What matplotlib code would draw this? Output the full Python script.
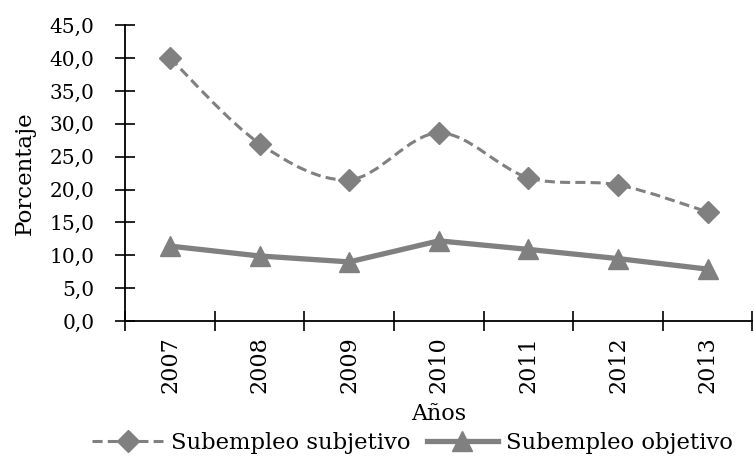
import matplotlib
matplotlib.use("Agg")
import matplotlib.pyplot as plt
from matplotlib.path import Path
from matplotlib.patches import PathPatch
from matplotlib.lines import Line2D
import numpy as np

# ─── Datos ────────────────────────────────────────────────────────────────────
years = ["2007", "2008", "2009", "2010", "2011", "2012", "2013"]
subjetivo = [40.0, 27.0, 21.5, 28.6, 21.8, 20.7, 16.6]
objetivo = [11.4, 9.9, 9.0, 12.2, 10.9, 9.5, 7.9]
yticks = [0, 5, 10, 15, 20, 25, 30, 35, 40, 45]

GREY = "#808080"
plt.rcParams["font.family"] = ["DejaVu Serif"]
DASH = (0, (3.3, 1.7))


def smooth_path(xs, ys):
    # curva tipo Catmull-Rom (como la línea suavizada de Excel)
    pts = np.column_stack([xs, ys]).astype(float)
    n = len(pts)
    verts = [pts[0]]
    codes = [Path.MOVETO]
    for i in range(n - 1):
        p0 = pts[i - 1] if i > 0 else pts[i]
        p1 = pts[i]
        p2 = pts[i + 1]
        p3 = pts[i + 2] if i + 2 < n else pts[i + 1]
        c1 = p1 + (p2 - p0) / 6.0
        c2 = p2 - (p3 - p1) / 6.0
        verts += [c1, c2, p2]
        codes += [Path.CURVE4] * 3
    return Path(verts, codes)


fig = plt.figure(figsize=(7.54, 4.66), dpi=100)
ax = fig.add_axes([0.166, 0.311, 0.832, 0.635])

x = np.arange(len(years))

# Subempleo subjetivo: línea suavizada discontinua
patch = PathPatch(smooth_path(x, subjetivo), facecolor="none", edgecolor=GREY,
                  linewidth=2.2, linestyle=DASH, capstyle="butt", zorder=3)
ax.add_patch(patch)
ax.plot(x, subjetivo, linestyle="none", marker="D", markersize=11,
        color=GREY, zorder=4)

# Subempleo objetivo: línea gruesa continua
ax.plot(x, objetivo, color=GREY, linewidth=3.8, marker="^", markersize=15,
        zorder=3)

ax.set_xlim(-0.5, len(years) - 0.5)
ax.set_ylim(0, 45)
ax.set_yticks(yticks)
ax.set_yticklabels([f"{v:.1f}".replace(".", ",") for v in yticks], fontsize=14.5)

ax.set_xticks(x)
ax.set_xticklabels(years, rotation=90, fontsize=16)
ax.tick_params(axis="x", which="major", length=0, pad=11)
ax.set_xticks(np.arange(len(years) + 1) - 0.5, minor=True)
ax.tick_params(axis="x", which="minor", direction="inout", length=14, width=1.2)
ax.tick_params(axis="y", direction="inout", length=14, width=1.2, pad=15)

for side in ["top", "right"]:
    ax.spines[side].set_visible(False)
for side in ["left", "bottom"]:
    ax.spines[side].set_linewidth(1.3)

ax.set_ylabel("Porcentaje", fontsize=16.5, labelpad=10)
ax.set_xlabel("Años", fontsize=16, labelpad=7)

handles = [
    Line2D([], [], color=GREY, linewidth=2.2, linestyle=DASH,
           marker="D", markersize=11),
    Line2D([], [], color=GREY, linewidth=3.8, marker="^", markersize=15),
]
fig.legend(handles, ["Subempleo subjetivo", "Subempleo objetivo"],
           loc="center", bbox_to_anchor=(0.547, 0.05), ncol=2, frameon=False,
           fontsize=16.3, handlelength=3.15, handletextpad=0.36, columnspacing=0.7)

fig.savefig("out.png", dpi=100)
